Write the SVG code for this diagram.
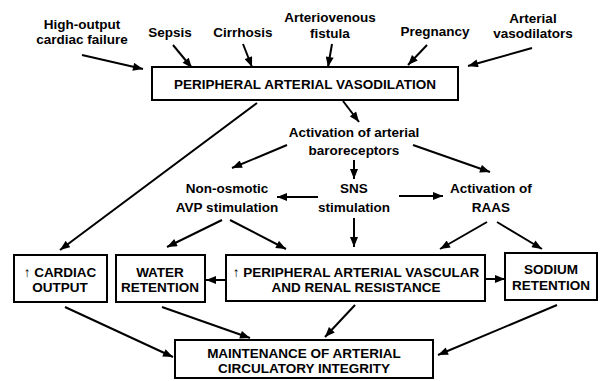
<svg xmlns="http://www.w3.org/2000/svg" width="601" height="381" viewBox="0 0 601 381">
<defs>
<style>
text{font-family:"Liberation Sans",Arial,sans-serif;font-weight:bold;font-size:13.5px;fill:#000;text-anchor:middle}
.box{fill:#fff;stroke:#000;stroke-width:2}
.c line{stroke:#000;stroke-width:2;marker-end:url(#ah)}
</style>
<marker id="ah" viewBox="0 0 10 8" refX="10" refY="4" markerWidth="11" markerHeight="8" markerUnits="userSpaceOnUse" orient="auto">
<path d="M0,0 L10,4 L0,8 z" fill="#000"/>
</marker>
</defs>
<rect width="601" height="381" fill="#fff"/>
<g class="c" id="connectors">
<line x1="82" y1="55" x2="143" y2="69"/>
<line x1="173" y1="45" x2="192" y2="68"/>
<line x1="243" y1="44" x2="252" y2="67"/>
<line x1="332" y1="44" x2="328" y2="67"/>
<line x1="427" y1="45" x2="408" y2="65"/>
<line x1="532" y1="48" x2="468" y2="66"/>
<line x1="343" y1="101" x2="359" y2="122"/>
<line x1="257" y1="103" x2="60" y2="250"/>
<line x1="287" y1="145" x2="232" y2="168"/>
<line x1="413" y1="145" x2="490" y2="172"/>
<line x1="354" y1="160" x2="354" y2="179"/>
<line x1="318" y1="197" x2="277" y2="197"/>
<line x1="399" y1="196" x2="443" y2="196"/>
<line x1="354" y1="218" x2="354" y2="247"/>
<line x1="222" y1="220" x2="167" y2="247"/>
<line x1="230" y1="220" x2="286" y2="249"/>
<line x1="487" y1="222" x2="440" y2="249"/>
<line x1="497" y1="222" x2="542" y2="249"/>
<line x1="226" y1="280" x2="206" y2="280"/>
<line x1="485" y1="279" x2="505" y2="279"/>
<line x1="65" y1="307" x2="173" y2="357"/>
<line x1="162" y1="307" x2="250" y2="338"/>
<line x1="355" y1="305" x2="325" y2="337"/>
<line x1="557" y1="305" x2="438" y2="355"/>
</g>
<g id="high-output"><text x="82" y="29">High-output</text><text x="82" y="44">cardiac failure</text></g>
<g id="sepsis"><text x="170" y="37">Sepsis</text></g>
<g id="cirrhosis"><text x="243" y="37">Cirrhosis</text></g>
<g id="av-fistula"><text x="330" y="22">Arteriovenous</text><text x="330" y="38">fistula</text></g>
<g id="pregnancy"><text x="435" y="36">Pregnancy</text></g>
<g id="vasodilators"><text x="533" y="23">Arterial</text><text x="533" y="38">vasodilators</text></g>
<g id="pav"><rect class="box" x="152" y="67" width="306" height="33"/><text x="305" y="89">PERIPHERAL ARTERIAL VASODILATION</text></g>
<g id="baro"><text x="354" y="137">Activation of arterial</text><text x="354" y="155">baroreceptors</text></g>
<g id="avp"><text x="227" y="193">Non-osmotic</text><text x="227" y="212">AVP stimulation</text></g>
<g id="sns"><text x="354" y="193">SNS</text><text x="354" y="212">stimulation</text></g>
<g id="raas"><text x="491" y="193">Activation of</text><text x="491" y="212">RAAS</text></g>
<g id="cardiac"><rect class="box" x="14" y="255" width="93" height="47"/><text x="60" y="277">↑ CARDIAC</text><text x="60" y="292">OUTPUT</text></g>
<g id="water"><rect class="box" x="116" y="255" width="89" height="47"/><text x="160" y="277">WATER</text><text x="160" y="292">RETENTION</text></g>
<g id="resistance"><rect class="box" x="226" y="255" width="259" height="46"/><text x="356" y="277">↑ PERIPHERAL ARTERIAL VASCULAR</text><text x="356" y="292">AND RENAL RESISTANCE</text></g>
<g id="sodium"><rect class="box" x="505" y="253" width="92" height="47"/><text x="551" y="274">SODIUM</text><text x="551" y="290">RETENTION</text></g>
<g id="maintenance"><rect class="box" x="175" y="340" width="258" height="38"/><text x="304" y="358">MAINTENANCE OF ARTERIAL</text><text x="304" y="373">CIRCULATORY INTEGRITY</text></g>
</svg>
